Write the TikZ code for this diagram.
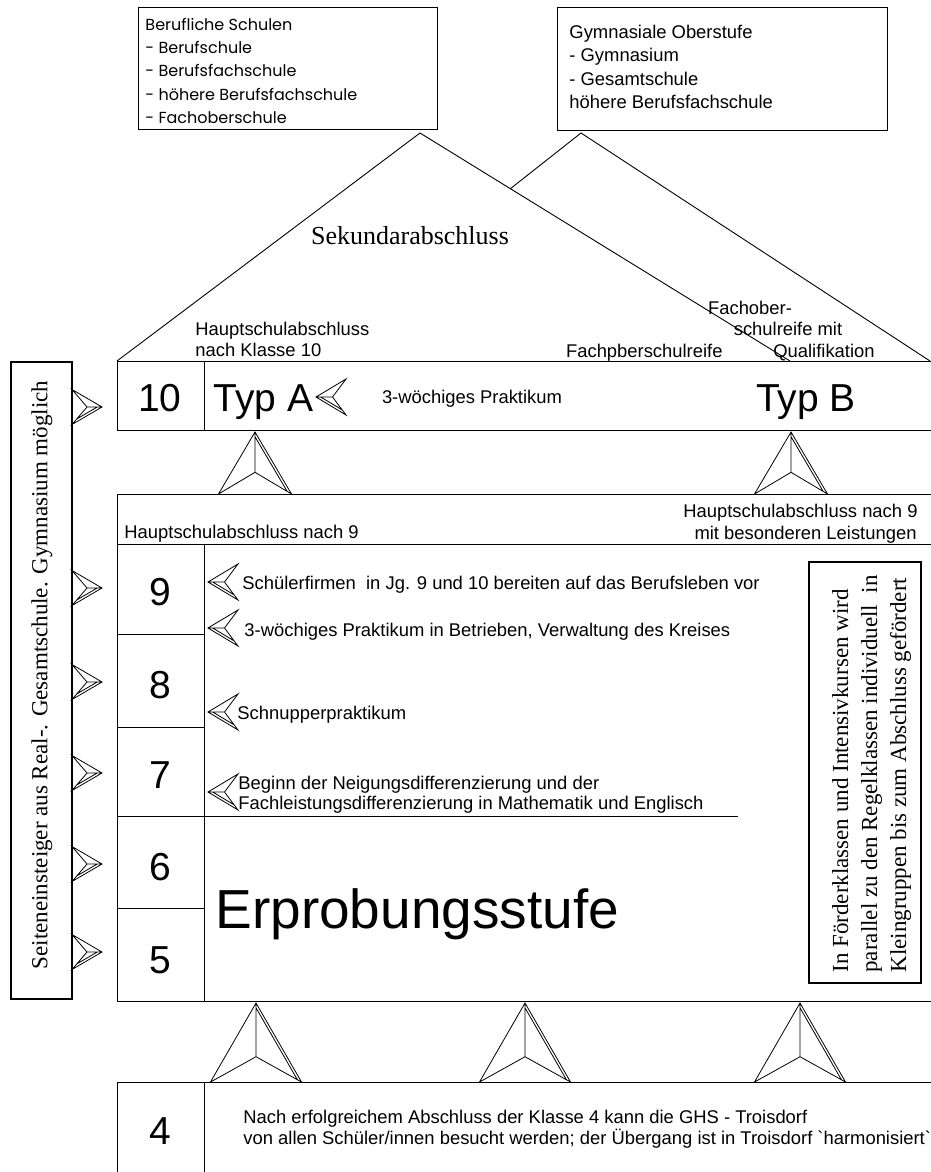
\documentclass[tikz,border=0pt]{standalone}
\usepackage{fontspec}
\setmainfont{Liberation Sans}
\newfontfamily\rawsans{Liberation Sans}[Ligatures=TeXOff]
\newfontfamily\serifx{Liberation Serif}
\newfontfamily\gothic{Poppins}
\newcommand{\dartshape}[7]{%
 \begin{scope}[shift={(#1,#2)},rotate=#3,xscale=#6]
  \pgfmathsetmacro{\dartL}{#4}\pgfmathsetmacro{\dartW}{#5}
  \pgfmathsetmacro{\dartF}{#7}
  \pgfmathsetmacro{\dartN}{\dartF*\dartL}
  \pgfmathsetmacro{\dartLen}{sqrt(\dartL*\dartL+\dartW*\dartW)}
  \pgfmathsetmacro{\dartY}{2.4*\dartLen/\dartW}
  \pgfmathsetmacro{\dartT}{1-2.4*\dartLen/(\dartW*\dartL*\dartF)}
  \draw[dartline] (0,0) -- (-\dartW,\dartL) -- (0,\dartN) -- (\dartW,\dartL) -- cycle
   (0,0) -- (0,\dartN)
   (0,\dartY) -- ({\dartT*\dartW},{\dartN+(1-\dartF)*\dartL*\dartT});
 \end{scope}}
\begin{document}
\begin{tikzpicture}[x=1pt,y=-1pt,line width=0.9pt,
  dartline/.style={line width=0.8pt,line join=miter},
  txt/.style={inner sep=0pt,font=\fontsize{18.4}{21}\selectfont},
  gtxt/.style={inner sep=0pt,font=\gothic\fontsize{16}{21}\selectfont},
  bigtxt/.style={inner sep=0pt,font=\fontsize{39}{45}\selectfont},
  sertxt/.style={inner sep=0pt,font=\serifx\fontsize{23}{29}\selectfont},
  thickbox/.style={line width=1.8pt}]
\fill[white] (0,0) rectangle (930,1172);
\useasboundingbox (0,0) rectangle (930,1172);

% top boxes
\draw (138,7) rectangle (437,129);
\node[gtxt,anchor=base west] (bs1) at (145,31) {Berufliche Schulen};
\node[gtxt,anchor=base west] (bs2) at (145,54) {- Berufschule};
\node[gtxt,anchor=base west] (bs3) at (145,77) {- Berufsfachschule};
\node[gtxt,anchor=base west] (bs4) at (145,100) {- höhere Berufsfachschule};
\node[gtxt,anchor=base west] (bs5) at (145,123) {- Fachoberschule};

\draw (557,7) rectangle (887,130);
\node[txt,anchor=base west] (go1) at (569,39) {Gymnasiale Oberstufe};
\node[txt,anchor=base west] (go2) at (569,62) {- Gymnasium};
\node[txt,anchor=base west] (go3) at (569,85) {- Gesamtschule};
\node[txt,anchor=base west] (go4) at (569,108) {höhere Berufsfachschule};

% roofs
\draw (117,361) -- (420,133) -- (790,361);
\draw (510,189) -- (581,133) -- (930,361);
\node[inner sep=0pt,font=\serifx\fontsize{26}{30}\selectfont] (sek) at (410,236) {Sekundarabschluss};

\node[txt,anchor=base west] (ha1) at (195,335) {Hauptschulabschluss};
\node[txt,anchor=base west] (ha2) at (195,356) {nach Klasse 10};
\node[txt,anchor=base east] (fr) at (723,357) {Fachpberschulreife};
\node[txt,anchor=base] (fq1) at (750,314) {Fachober-};
\node[txt,anchor=base] (fq2) at (788,335) {schulreife mit};
\node[txt,anchor=base] (fq3) at (824,357) {Qualifikation};

% row 10
\draw (117,361) rectangle (940,430);
\draw (204,361) -- (204,430);
\node[bigtxt,anchor=base] (n10) at (160,411) {10};
\node[bigtxt,anchor=base west] (typa) at (213,411) {Typ A};
\dartshape{316}{397}{90}{30}{18}{-1}{0.55}
\node[txt,anchor=base] (pr3) at (472,403) {3-wöchiges Praktikum};
\node[bigtxt,anchor=base] (typb) at (806,411) {Typ B};

% up arrows between 10 and 9
\dartshape{255}{432}{0}{62}{36.5}{1}{0.65}
\dartshape{791}{432}{0}{62}{36.5}{1}{0.65}

% big box
\draw (117,494) rectangle (940,1001);
\draw (117,544) -- (940,544);
\draw (204,544) -- (204,1001);
\draw (117,634) -- (204,634);
\draw (117,727) -- (204,727);
\draw (117,816) -- (738,816);
\draw (117,908) -- (204,908);
\node[txt,anchor=base west] (h9) at (124,538) {Hauptschulabschluss nach 9};
\node[txt,anchor=base east] (h9b) at (918,517) {Hauptschulabschluss nach 9};
\node[txt,anchor=base east] (h9c) at (917,539) {mit besonderen Leistungen};

\node[bigtxt,anchor=base] (n9) at (160,605) {9};
\node[bigtxt,anchor=base] (n8) at (160,698) {8};
\node[bigtxt,anchor=base] (n7) at (160,788) {7};
\node[bigtxt,anchor=base] (n6) at (160,880) {6};
\node[bigtxt,anchor=base] (n5) at (160,973) {5};

\dartshape{208}{582}{90}{30}{18}{-1}{0.55}
\node[txt,anchor=base west] (t1) at (242,589) {Schülerfirmen~ in Jg. 9 und 10 bereiten auf das Berufsleben vor};
\dartshape{208}{628}{90}{30}{18}{-1}{0.55}
\node[txt,anchor=base west] (t2) at (244,636) {3-wöchiges Praktikum in Betrieben, Verwaltung des Kreises};
\dartshape{208}{712}{90}{30}{18}{-1}{0.55}
\node[txt,anchor=base west] (t3) at (237,719) {Schnupperpraktikum};
\dartshape{208}{792}{90}{30}{18}{-1}{0.55}
\node[txt,anchor=base west] (t4) at (238,789) {Beginn der Neigungsdifferenzierung und der};
\node[txt,anchor=base west] (t5) at (238,809) {Fachleistungsdifferenzierung in Mathematik und Englisch};

\node[inner sep=0pt,anchor=base west,font=\fontsize{55}{60}\selectfont] (erp) at (215,928) {Erprobungsstufe};

% right box
\draw[thickbox] (809,562) rectangle (921,983);
\node[sertxt,rotate=90,anchor=west,align=left] (rb) at (871.5,973)
  {In Förderklassen und Intensivkursen wird\\parallel zu den Regelklassen individuell~ in\\Kleingruppen bis zum Abschluss gefördert};

% left box
\draw[thickbox] (11,362) rectangle (72,999);
\node[inner sep=0pt,rotate=90,font=\serifx\fontsize{23}{28}\selectfont] (lb) at (42,675)
  {Seiteneinsteiger aus Real-. Gesamtschule. Gymnasium möglich};
\foreach \yy in {407,588,682,773,864,952} {\dartshape{102}{\yy}{-90}{30}{17.5}{1}{0.5}}

% bottom arrows
\dartshape{256}{1003}{0}{79}{45.5}{1}{0.68}
\dartshape{525}{1003}{0}{79}{45.5}{1}{0.68}
\dartshape{800}{1003}{0}{79}{45.5}{1}{0.68}

% row 4
\draw (117,1082) rectangle (940,1180);
\draw (204,1082) -- (204,1180);
\node[bigtxt,anchor=base] (n4) at (160,1144) {4};
\node[txt,anchor=base west] (b1) at (243,1123) {Nach erfolgreichem Abschluss der Klasse 4 kann die GHS - Troisdorf};
\node[txt,anchor=base west] (b2) at (243,1144) {von allen Schüler/innen besucht werden; der Übergang ist in Troisdorf {\rawsans `harmonisiert`}};
\end{tikzpicture}
\end{document}
